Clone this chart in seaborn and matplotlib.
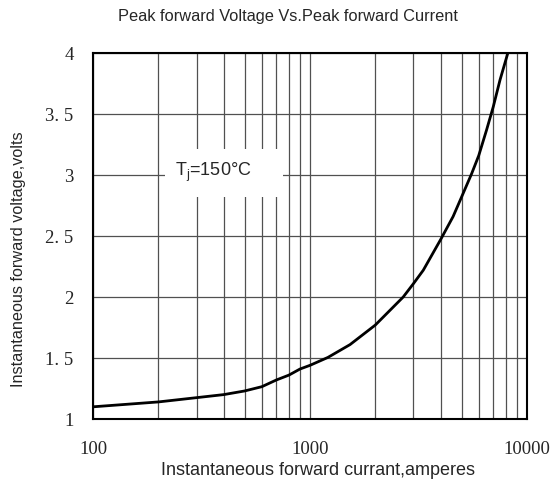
import matplotlib
matplotlib.use('Agg')
import matplotlib.pyplot as plt
import seaborn as sns
import pandas as pd
from matplotlib.patches import Rectangle
from matplotlib.ticker import LogLocator, NullFormatter

# values
current = [100, 200, 300, 400, 500, 600, 700, 800, 900, 1000, 1210, 1530, 2000,
           2690, 3000, 3330, 4000, 4570, 5000, 5560, 6000, 6520, 7000, 7520, 8170]
voltage = [1.10, 1.14, 1.175, 1.20, 1.23, 1.265, 1.32, 1.36, 1.41, 1.44, 1.505, 1.61, 1.77,
           2.00, 2.11, 2.22, 2.47, 2.66, 2.82, 3.01, 3.16, 3.37, 3.56, 3.78, 4.0]
x_ticks = [100, 1000, 10000]
x_labels = ['100', '1000', '10000']
y_ticks = [1, 1.5, 2, 2.5, 3, 3.5, 4]
y_labels = ['1', '1. 5', '2', '2. 5', '3', '3. 5', '4']

df = pd.DataFrame({'current': current, 'voltage': voltage})

sns.set_theme(style='white')
plt.rcParams['font.family'] = ['Liberation Sans', 'DejaVu Sans']

fig = plt.figure(figsize=(5.54, 4.83), dpi=100)
ax = fig.add_axes([0.168, 0.1325, 0.783, 0.7575])

sns.lineplot(data=df, x='current', y='voltage', color='black', linewidth=2, ax=ax)
ax.set_xscale('log')
ax.set_xlim(100, 10000)
ax.set_ylim(1, 4)

ax.set_xticks(x_ticks)
ax.set_xticklabels(x_labels, fontfamily='Liberation Serif', fontsize=13.5)
ax.xaxis.set_minor_locator(LogLocator(base=10, subs=range(2, 10)))
ax.xaxis.set_minor_formatter(NullFormatter())
ax.set_yticks(y_ticks)
ax.set_yticklabels(y_labels, fontfamily='Liberation Serif', fontsize=13.5)
ax.tick_params(axis='x', which='both', length=0, pad=16)
ax.tick_params(axis='y', length=0, pad=14)

ax.grid(True, which='major', color='#505050', linewidth=0.9)
ax.grid(True, which='minor', axis='x', color='#505050', linewidth=0.9)
ax.set_axisbelow(True)
for s in ax.spines.values():
    s.set_color('black')
    s.set_linewidth(1.5)

ax.set_xlabel('')
ax.set_ylabel('')
fig.text(0.574, 0.016, 'Instantaneous forward currant,amperes',
         ha='center', va='baseline', fontsize=13)
fig.text(0.034, 1 - 259 / 483, 'Instantaneous forward voltage,volts',
         rotation=90, ha='center', va='center', fontsize=11.7)
fig.text(0.52, 0.965, 'Peak forward Voltage Vs.Peak forward Current',
         ha='center', va='center', fontsize=11.8)

# white label box over the grid
ax.add_patch(Rectangle((0.166, 0.607), 0.272, 0.131, transform=ax.transAxes,
                       facecolor='white', edgecolor='none', zorder=2))
ax.text(0.189, 0.675, r'T$_\mathregular{j}$=150°C', transform=ax.transAxes,
        ha='left', va='center', fontsize=13, zorder=3)

fig.savefig('out.png', dpi=100)
